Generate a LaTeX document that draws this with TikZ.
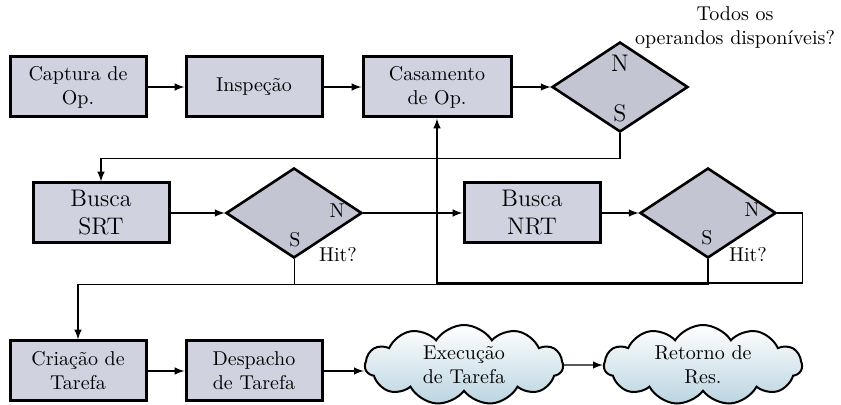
\documentclass[tikz,border=0pt]{standalone}
\usepackage{amsmath}
\usetikzlibrary{shapes.geometric,shapes.symbols}
\definecolor{boxfill}{RGB}{208,211,223}
\definecolor{diafill}{RGB}{196,197,210}
\definecolor{cloudbot}{RGB}{186,212,224}

\begin{document}
\begin{tikzpicture}[x=0.5pt,y=-0.5pt]
                \tikzset{etapa/.style={draw, line width=1.5pt, fill=boxfill, align=center,
                                       minimum width=68pt, minimum height=30pt, inner sep=1pt},
                         decisao/.style={draw, diamond, line width=1.3pt, fill=diafill,
                                         minimum width=68pt, minimum height=45pt, inner sep=0pt},
                         nuvem/.style={draw, cloud, cloud puffs=11, cloud puff arc=115, aspect=2.3,
                                       line width=1pt, top color=white, bottom color=cloudbot,
                                       align=center, minimum width=99pt, minimum height=40pt, inner sep=0pt},
                         seta/.style={-latex, line width=0.7pt}}
                \useasboundingbox (0,0) rectangle (841,405);
                % primeira linha
                \node[etapa] (cap) at (78,87) {Captura de\\Op.};
                \node[etapa] (ins) at (254,87) {Inspeção};
                \node[etapa, minimum width=74pt] (cas) at (437,87) {Casamento\\de Op.};
                \node[decisao] (d1) at (620,87) {};
                \node[font=\large] (d1n) at (620,63) {N};
                \node[font=\large] (d1s) at (620,113) {S};
                \node[align=center] (todos) at (735,28) {Todos os\\operandos disponíveis?};
                % segunda linha
                \node[etapa, font=\large] (srt) at (101,213) {Busca\\SRT};
                \node[decisao] (d2) at (294,213) {};
                \node (d2n) at (337,211) {N};
                \node (d2s) at (295,240) {S};
                \node (d2h) at (338,255) {Hit?};
                \node[etapa, font=\large] (nrt) at (532,213) {Busca\\NRT};
                \node[decisao] (d3) at (708,213) {};
                \node (d3n) at (752,210) {N};
                \node (d3s) at (707,238) {S};
                \node (d3h) at (748,255) {Hit?};
                % terceira linha
                \node[etapa] (cri) at (78,371) {Criação de\\Tarefa};
                \node[etapa] (des) at (254,371) {Despacho\\de Tarefa};
                \node[nuvem] (exe) at (464,365) {Execução\\de Tarefa};
                \node[nuvem] (ret) at (703,365) {Retorno de\\Res.};
                % conexoes
                \draw[seta] (cap) -- (ins);
                \draw[seta] (ins) -- (cas);
                \draw[seta] (cas) -- (d1);
                \draw[seta] (d1.south) -- ++(0,25) -| (srt.north);
                \draw[seta] (srt) -- (d2);
                \draw[seta] (d2.east) -- (nrt);
                \draw[seta] (nrt) -- (d3);
                \draw (d2.south) -- ++(0,25);
                \draw[seta] (d3.south) -- ++(0,25) -| (cri.north);
                \draw[seta] (d3.east) -- ++(25,0) -- ++(0,70) -| (cas.south);
                \draw[seta] (cri) -- (des);
                \draw[seta] (des) -- (des -| exe.west);
                \draw[seta] (exe) -- (ret);
            \end{tikzpicture}
\end{document}
